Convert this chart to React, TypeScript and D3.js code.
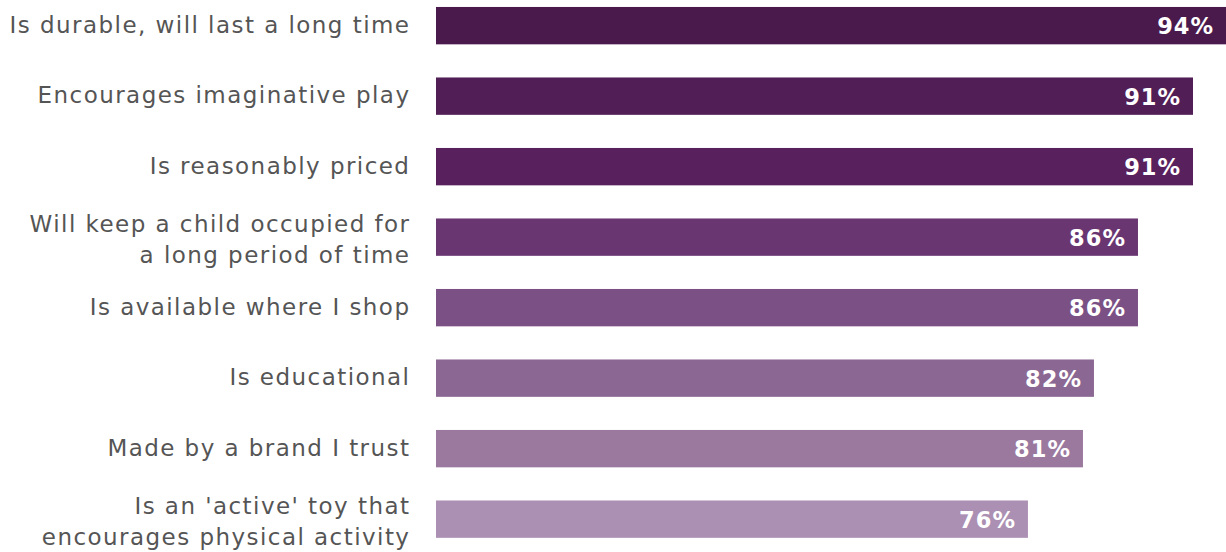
import React from "react";
import * as d3 from "d3";

const categories: string[][] = [
  ["Is durable, will last a long time"],
  ["Encourages imaginative play"],
  ["Is reasonably priced"],
  ["Will keep a child occupied for", "a long period of time"],
  ["Is available where I shop"],
  ["Is educational"],
  ["Made by a brand I trust"],
  ["Is an 'active' toy that", "encourages physical activity"],
];
const values: number[] = [94, 91, 91, 86, 86, 82, 81, 76];
const colors: string[] = [
  "#4a1a4d",
  "#511e56",
  "#59205e",
  "#6a3672",
  "#7b5185",
  "#8b6893",
  "#9b799f",
  "#ac90b3",
];

const W = 1226;
const H = 552;
const FONT = "'DejaVu Sans', sans-serif";
const LS = 1.45;

export default function App() {
  const x = d3.scaleLinear().domain([22.2, 94]).range([436, 1226]);
  const y = d3
    .scaleBand<number>()
    .domain(d3.range(values.length))
    .range([-9.6, 554.4])
    .paddingInner(0.47)
    .paddingOuter(0.235);
  const bh = y.bandwidth();
  const lh = 30.5;
  return (
    <svg
      width={W}
      height={H}
      style={{ position: "absolute", left: 0, top: 0, display: "block" }}
    >
      <rect width={W} height={H} fill="#ffffff" />
      {values.map((v, i) => {
        const y0 = y(i)!;
        const cy = y0 + bh / 2;
        const lines = categories[i];
        const n = lines.length;
        return (
          <g key={i}>
            <rect x={x.range()[0]} y={y0} width={x(v) - x.range()[0]} height={bh} fill={colors[i]} />
            <text
              x={x(v) - 13 + 1}
              y={cy + 8.5}
              textAnchor="end"
              fill="#ffffff"
              fontFamily={FONT}
              fontWeight={700}
              fontSize={22.5}
              letterSpacing={1}
            >
              {v}%
            </text>
            {lines.map((t, j) => (
              <text
                key={j}
                x={409 + LS}
                y={cy + 7 + (j - (n - 1) / 2) * lh + (n > 1 ? 3.2 : 0)}
                textAnchor="end"
                fill="#555555"
                fontFamily={FONT}
                fontSize={23}
                letterSpacing={LS}
              >
                {t}
              </text>
            ))}
          </g>
        );
      })}
    </svg>
  );
}
